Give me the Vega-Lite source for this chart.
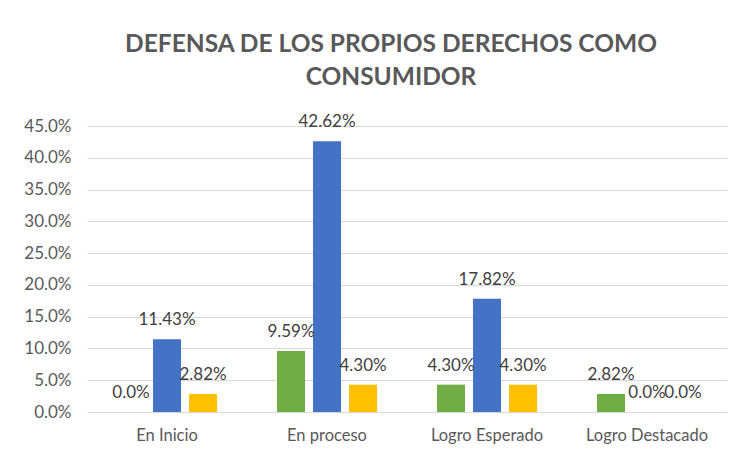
{
  "$schema": "https://vega.github.io/schema/vega-lite/v6.json",
  "width": 640,
  "height": 286,
  "autosize": {"type": "none"},
  "padding": {"left": 87, "top": 126, "right": 10, "bottom": 40},
  "background": "white",
  "title": {
    "text": ["DEFENSA DE LOS PROPIOS DERECHOS COMO", "CONSUMIDOR"],
    "anchor": "middle",
    "dx": -16,
    "fontSize": 24.5,
    "lineHeight": 33,
    "font": "Lato",
    "fontWeight": "bold",
    "color": "#595959",
    "offset": 23
  },
  "config": {
    "view": {"stroke": null},
    "font": "Lato"
  },
  "data": {
    "values": [
      {"cat": "En Inicio", "serie": "S1", "value": 0.0, "label": "0.0%"},
      {"cat": "En Inicio", "serie": "S2", "value": 0.1143, "label": "11.43%"},
      {"cat": "En Inicio", "serie": "S3", "value": 0.0282, "label": "2.82%"},
      {"cat": "En proceso", "serie": "S1", "value": 0.0959, "label": "9.59%"},
      {"cat": "En proceso", "serie": "S2", "value": 0.4262, "label": "42.62%"},
      {"cat": "En proceso", "serie": "S3", "value": 0.043, "label": "4.30%"},
      {"cat": "Logro Esperado", "serie": "S1", "value": 0.043, "label": "4.30%"},
      {"cat": "Logro Esperado", "serie": "S2", "value": 0.1782, "label": "17.82%"},
      {"cat": "Logro Esperado", "serie": "S3", "value": 0.043, "label": "4.30%"},
      {"cat": "Logro Destacado", "serie": "S1", "value": 0.0282, "label": "2.82%"},
      {"cat": "Logro Destacado", "serie": "S2", "value": 0.0, "label": "0.0%"},
      {"cat": "Logro Destacado", "serie": "S3", "value": 0.0, "label": "0.0%"}
    ]
  },
  "encoding": {
    "x": {
      "field": "cat",
      "type": "nominal",
      "sort": ["En Inicio", "En proceso", "Logro Esperado", "Logro Destacado"],
      "scale": {"paddingInner": 0, "paddingOuter": 0},
      "axis": {
        "title": null,
        "labelAngle": 0,
        "labelFontSize": 16.5,
        "labelColor": "#595959",
        "labelPadding": 15,
        "ticks": false,
        "domain": false
      }
    },
    "xOffset": {
      "field": "serie",
      "type": "nominal",
      "sort": ["S1", "S2", "S3"],
      "scale": {"paddingInner": 0.222, "paddingOuter": 0.833}
    },
    "y": {
      "field": "value",
      "type": "quantitative",
      "scale": {"domain": [0, 0.45], "nice": false},
      "axis": {
        "title": null,
        "format": ".1%",
        "values": [0, 0.05, 0.1, 0.15, 0.2, 0.25, 0.3, 0.35, 0.4, 0.45],
        "labelFontSize": 17,
        "labelColor": "#595959",
        "labelPadding": 16,
        "ticks": false,
        "domain": false,
        "gridColor": "#d9d9d9",
        "gridWidth": 1
      }
    }
  },
  "layer": [
    {
      "mark": {"type": "bar"},
      "encoding": {
        "color": {
          "field": "serie",
          "type": "nominal",
          "scale": {"domain": ["S1", "S2", "S3"], "range": ["#70AD47", "#4472C4", "#FFC000"]},
          "legend": null
        }
      }
    },
    {
      "mark": {"type": "text", "dy": -19, "baseline": "middle", "fontSize": 17, "color": "#404040"},
      "encoding": {
        "text": {"field": "label", "type": "nominal"}
      }
    }
  ]
}
